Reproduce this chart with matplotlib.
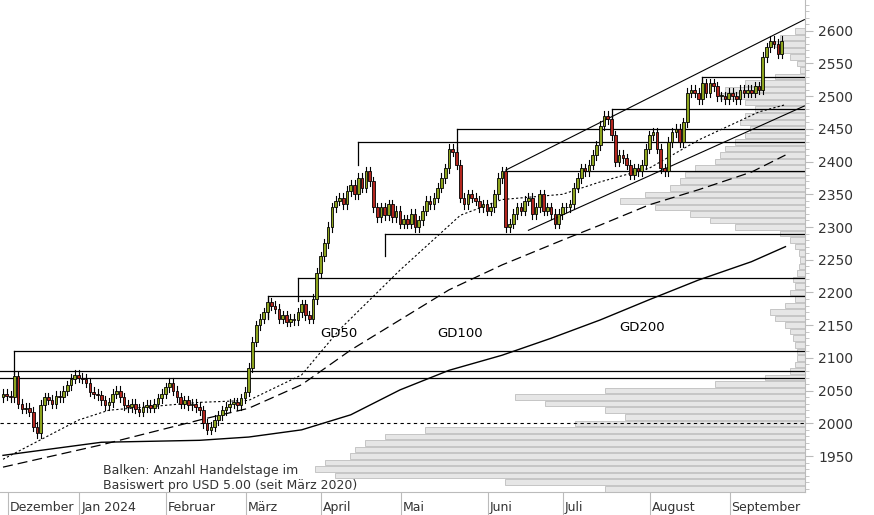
import matplotlib
matplotlib.use("Agg")
import matplotlib.pyplot as plt
import numpy as np

closes = [2045, 2042, 2040, 2072, 2030, 2022, 2024, 2018, 1995, 1985,
          2028, 2040, 2036, 2030, 2042, 2040, 2050, 2058, 2068, 2074,
          2070, 2068, 2062, 2048, 2045, 2043, 2035, 2028, 2032, 2045,
          2050, 2040, 2028, 2025, 2030, 2022, 2018, 2025, 2028, 2024,
          2030, 2038, 2045, 2055, 2062, 2050, 2040, 2030, 2035, 2028,
          2030, 2025, 2020, 2000, 1990, 1995, 2005, 2012, 2020, 2025,
          2030, 2032, 2028, 2038, 2048, 2085, 2125, 2150, 2160, 2170,
          2185, 2180, 2175, 2160, 2165, 2155, 2160, 2158, 2170, 2182,
          2165, 2160, 2190, 2230, 2255, 2275, 2300, 2330, 2340, 2345,
          2335, 2355, 2365, 2350, 2375, 2360, 2385, 2370, 2330, 2315,
          2330, 2318, 2335, 2315, 2325, 2305, 2312,
          2305, 2320, 2300, 2310, 2325, 2340, 2335, 2345, 2360, 2375, 2390, 2420, 2415, 2395, 2345, 2335, 2350, 2345, 2340, 2330, 2335, 2325,
          2330, 2350, 2375, 2385, 2300, 2305, 2320, 2330, 2325, 2340, 2345, 2320, 2330, 2350, 2325, 2330, 2320, 2305, 2320, 2330,
          2330, 2335, 2360, 2375, 2390, 2385, 2395, 2410, 2425, 2455, 2470, 2465, 2440, 2400, 2410, 2405, 2395, 2380, 2390, 2385, 2395, 2420, 2440,
          2445, 2420, 2390, 2385, 2430, 2445, 2450, 2430, 2460, 2505, 2510, 2505, 2495, 2520, 2505, 2520, 2515, 2500, 2500, 2495, 2505,
          2500, 2495, 2510, 2505, 2510, 2505, 2515, 2510, 2560, 2575, 2585, 2580, 2565, 2585]
first_open = 2040
wick = 7

month_labels = ["Dezember", "Jan 2024", "Februar", "März", "April", "Mai", "Juni", "Juli", "August", "September"]
month_idx = [2, 21, 44, 65, 85, 106, 129, 149, 172, 193]

gd50_x = [0, 10, 20, 28, 52, 65, 79, 89, 105, 121, 132, 148, 158, 171, 184, 200, 207]
gd50_v = [1945, 1975, 2005, 2020, 2032, 2035, 2074, 2143, 2234, 2318, 2342, 2350, 2369, 2390, 2433, 2476, 2487]
gd100_x = [0, 26, 52, 65, 79, 92, 105, 118, 132, 148, 158, 171, 184, 198, 207]
gd100_v = [1933, 1967, 2005, 2023, 2059, 2112, 2158, 2204, 2242, 2280, 2303, 2334, 2357, 2384, 2410]
gd200_x = [0, 26, 52, 65, 79, 92, 105, 118, 132, 145, 158, 171, 184, 198, 207]
gd200_v = [1951, 1971, 1974, 1979, 1990, 2013, 2051, 2081, 2104, 2130, 2158, 2189, 2219, 2247, 2270]

hlines_v = [2110, 2080, 2070, 2195, 2222, 2290, 2430, 2450, 2385, 2480, 2530]
hlines_start = [3, -1, -1, 70, 78, 101, 94, 120, 133, 161, 185]
upper_ch_x = [133, 212]
upper_ch_v = [2387, 2617]
lower_ch_x = [139, 212]
lower_ch_v = [2295, 2485]

prof_levels = [2600, 2590, 2580, 2570, 2560, 2550, 2540, 2530, 2520, 2510, 2500, 2490, 2480, 2470, 2460, 2450, 2440, 2430,
               2420, 2410, 2400, 2390, 2380, 2370, 2360, 2350, 2340, 2330, 2320, 2310, 2300, 2290, 2280, 2270, 2260, 2250,
               2240, 2230, 2220, 2210, 2200, 2190, 2180, 2170, 2160, 2150, 2140, 2130, 2120, 2110, 2100, 2090, 2080, 2070,
               2060, 2050, 2040, 2030, 2020, 2010, 2000, 1990, 1980, 1970, 1960, 1950, 1940, 1930, 1920, 1910, 1900]
prof_counts = [10, 25, 30, 28, 15, 8, 5, 30, 60, 80, 85, 60, 50, 60, 65, 55, 60, 70,
               80, 85, 90, 110, 120, 125, 135, 160, 185, 150, 115, 95, 70, 25, 15, 10, 6, 5,
               6, 8, 12, 10, 15, 10, 20, 35, 30, 20, 15, 12, 10, 8, 8, 10, 15, 40,
               90, 200, 290, 260, 200, 180, 230, 380, 420, 440, 450, 455, 480, 490, 470, 300, 200]

W, H = 874, 515
fig = plt.figure(figsize=(W / 100, H / 100), dpi=100)
ax = fig.add_axes([0, (H - 492) / H, 805 / W, 492 / H])
x0px, dx = 3, 3.78
xmin = -x0px / dx
xmax = xmin + 805 / dx
ax.set_xlim(xmin, xmax)
ax.set_ylim(1895, 2647)

# profile
ax2 = ax.twiny()
ax2.set_xlim(805, 0)
ax2.barh(prof_levels, prof_counts, height=8.5, color="#e6e6e6", edgecolor="#b4b4b4", lw=0.5, zorder=0)
ax2.axis("off")
ax.set_zorder(ax2.get_zorder() + 1)
ax.patch.set_visible(False)

ax.axhline(2000, color="black", lw=0.8, ls=(0, (3, 3)))
for v, s in zip(hlines_v, hlines_start):
    ax.plot([s, xmax], [v, v], color="black", lw=0.9)
    ax.plot([s, s], [v - 35 if s > 0 else v, v], color="black", lw=0.9)
ax.plot(upper_ch_x, upper_ch_v, color="black", lw=0.8)
ax.plot(lower_ch_x, lower_ch_v, color="black", lw=0.8)
ax.plot(gd50_x, gd50_v, color="black", lw=0.8, ls=(0, (2, 2)))
ax.plot(gd100_x, gd100_v, color="black", lw=0.9, ls=(0, (8, 4)))
ax.plot(gd200_x, gd200_v, color="black", lw=1.0)

opens = [first_open] + closes[:-1]
for i, (o, c) in enumerate(zip(opens, closes)):
    hi, lo = max(o, c) + wick, min(o, c) - wick
    col = "#8da41e" if c >= o else "#b3261e"
    ax.plot([i, i], [lo, hi], color="black", lw=0.8, zorder=3)
    ax.bar(i, max(abs(c - o), 1.2), bottom=min(o, c), width=0.7, color=col, edgecolor="black", lw=0.6, zorder=4)

ax.text(84, 2138, "GD50", fontsize=9.5, ha="left", va="center")
ax.text(115, 2138, "GD100", fontsize=9.5, ha="left", va="center")
ax.text(163, 2147, "GD200", fontsize=9.5, ha="left", va="center")
ax.text(26.5, 1928, "Balken: Anzahl Handelstage im", fontsize=9, color="#333333", va="center")
ax.text(26.5, 1905, "Basiswert pro USD 5.00 (seit März 2020)", fontsize=9, color="#333333", va="center")

for s in ["top", "left"]:
    ax.spines[s].set_visible(False)
ax.spines["right"].set_color("#bbbbbb")
ax.spines["bottom"].set_color("#bbbbbb")
ax.yaxis.tick_right()
ax.set_yticks(np.arange(1950, 2601, 50))
ax.set_yticks(np.arange(1900, 2641, 10), minor=True)
ax.tick_params(axis="y", which="major", length=6, color="#bbbbbb", labelsize=10, labelcolor="#333333")
ax.tick_params(axis="y", which="minor", length=3, color="#bbbbbb")
ax.set_xticks([m - 0.8 for m in month_idx])
ax.set_xticklabels([])
ax.tick_params(axis="x", length=23, color="#bbbbbb", direction="out")
for m, lab in zip(month_idx, month_labels):
    ax.text(m - 0.3, -0.031, lab, transform=ax.get_xaxis_transform(), fontsize=9, color="#333333",
            ha="left", va="center")

fig.savefig("out.png", dpi=100)
